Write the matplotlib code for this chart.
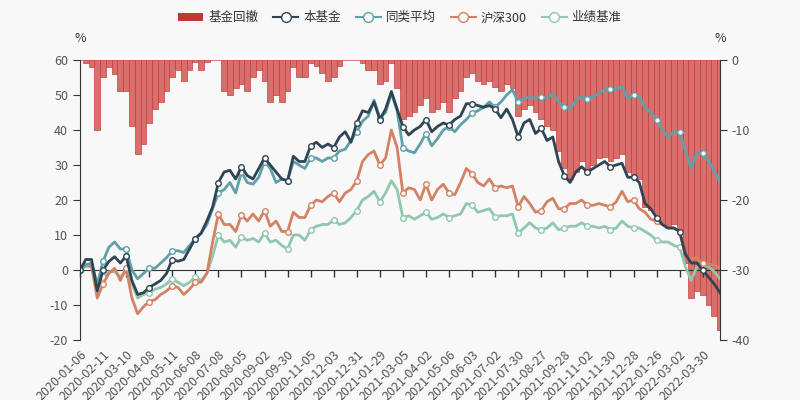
import numpy as np
import matplotlib
matplotlib.use("Agg")
import matplotlib.pyplot as plt
from matplotlib.lines import Line2D
from matplotlib.patches import Patch

plt.rcParams['font.family'] = ['Noto Sans CJK SC', 'DejaVu Sans']
plt.rcParams['axes.unicode_minus'] = False

# 周度取样（每5个交易日一个点）
date_labels = [
    "2020-01-06", "2020-02-11", "2020-03-10", "2020-04-08", "2020-05-11", "2020-06-08",
    "2020-07-08", "2020-08-05", "2020-09-02", "2020-09-30", "2020-11-05", "2020-12-03",
    "2020-12-31", "2021-01-29", "2021-03-05", "2021-04-02", "2021-05-06", "2021-06-03",
    "2021-07-02", "2021-07-30", "2021-08-27", "2021-09-28", "2021-11-02", "2021-11-30",
    "2021-12-28", "2022-01-26", "2022-03-02", "2022-03-30",
]

fund = [
    0, 3, 3, -6, 0, 2.4, 3.8, 2, 4, -3, -7, -6.5, -5, -4, -3, -1, 3, 2.5, 3, 6, 9, 10.5, 14, 18, 25,
    28, 28.5, 26, 29.5, 27, 26, 29, 32, 30, 28, 26, 25.5, 32.5, 31, 31, 35.5, 36.5, 35, 36, 35, 38, 39.5, 36.5, 42,
    45.5, 45, 48, 43, 46, 51, 46, 41,
    38.6, 40, 41, 43, 39.5, 41, 42, 41.4, 43, 44, 47.5, 47.5, 47, 46.5, 47, 46, 43.5, 46, 43, 38,
    42, 43, 39, 40.5, 37, 38, 31, 27, 25, 28,
    29.5, 28, 29, 30, 31, 29.5, 30, 30.5, 26.5, 26.5, 25, 19, 17.5, 15, 13, 12, 12, 11, 4.5, 2, 2, 0, -2, -4, -6.5,
]

peer = [
    0, 1.5, 2, -4, 2.5, 6.5, 8, 6, 6, 0, -2.5, -1, 0.5, 0.5, 2, 3.5, 5.5, 5.5, 5, 7, 9, 10.5, 13, 17.5, 22,
    23, 25, 22, 28, 25, 24.5, 26.5, 31, 29, 25, 26, 25.5, 31, 30, 29, 32, 32, 31, 32, 32, 34, 34.5, 37, 39.5,
    42.5, 44, 48.5, 43.5, 45, 50.5, 45.5, 35,
    34, 33.5, 36, 39, 35.5, 37.5, 40, 41, 39.5, 41.5, 43, 44.8, 45.5, 46.5, 48, 46.5, 48, 50, 51.5, 48,
    49, 49.5, 49, 49.5, 49, 50.5, 48, 46.5, 46, 48.5,
    49.5, 49, 49.5, 50.5, 51.5, 51.8, 51.5, 52.5, 49, 50, 49.5, 46.5, 45, 43, 40, 38, 39.5, 39.5, 34, 29, 33.5, 33.5, 31, 28.5, 25,
]

hs300 = [
    0, 1.5, 1, -8, -4, -1, 0.5, -3, 0.5, -8, -12.5, -10.5, -9, -8.5, -7, -6, -4.5, -5, -7, -5.5, -3.5, -3.5, -1, 8, 16,
    13, 13, 11, 15.7, 14, 16, 14, 17, 12.5, 14, 11, 11, 16.5, 15, 15, 18.5, 20, 19.5, 21, 22, 19.5, 22, 23, 25.5,
    31, 33, 34, 30, 32, 40, 35, 22,
    23.5, 23, 20, 24.5, 20, 23, 24.5, 22, 21.5, 25, 29, 27.5, 25, 24, 26, 23.5, 24, 23.5, 24, 18,
    21, 19, 16.5, 17, 19.5, 20.5, 17.5, 17.5, 19, 19,
    20, 18.5, 18.5, 19, 18.5, 18, 19.5, 22.5, 19.5, 20, 17.5, 16.5, 14.5, 14, 13, 12, 12, 11, 4, 3, 3.5, 2, 1.5, 1.5, 0.5,
]

bench = [
    0, 1, 1, -4, -2, -0.5, -0.5, -2, 0, -4, -8, -7, -6.5, -5.5, -5, -4, -2.5, -3.5, -4.5, -3.5, -2, -3, -1, 4, 10,
    8, 8.5, 6.5, 9.5, 8.5, 9, 8, 10.5, 8, 8.5, 7, 6, 10, 10, 8.5, 11.5, 12.5, 13, 13, 14.3, 13, 13.5, 15, 17,
    20, 21, 22.5, 19.5, 22, 25.5, 23, 15,
    15.5, 14.5, 15.5, 16.5, 14.5, 15, 16, 15, 15.5, 16, 19, 18.5, 16.5, 17, 17.5, 15.2, 15.5, 15.5, 16, 10.5,
    12, 13.5, 12, 11.5, 12, 13.5, 11.5, 12, 12.5, 12.5,
    13.5, 12.5, 12.5, 12, 12.5, 11.5, 12, 14, 12.5, 12, 12, 11, 10, 8.5, 8, 8, 7, 6.5, 1, -3, 1, 1.5, 1, -0.5, -2.5,
]

drawdown = [
    0, -0.5, -1, -10, -2.5, -1, -2, -4.5, -4.5, -9.5, -13.5, -12, -9, -7, -6, -4.5, -2.5, -1.5, -3, -1.5,
    -0.3, -1.5, -0.3, 0, 0, -4.5, -5, -4, -3.5,
    -4.5, -2.5, -1.5, -3, -6, -5, -6, -4.5, -1, -2.5, -2.5, -0.5, -0.8, -1.8, -3, -2.5, -0.8, 0, 0, 0,
    -0.5, -1.5, -1.5, -3.5, -3, -0.5, -4, -8.5,
    -8, -7.5, -6.5, -5.5, -7.5, -7, -6, -7.5, -5.5, -4.5, -2.5, -1.8, -3, -3.5, -3, -3.8, -4.5, -3.5, -4, -8,
    -7, -6.5, -7.5, -8.5, -9.5, -10, -13, -15.5, -17, -16,
    -14.5, -15.5, -15, -14, -13.8, -14.5, -14, -13.5, -16, -16.5, -17, -21, -21.5, -22, -23.5, -24, -23.5,
    -24.5, -29, -34, -33, -33.5, -35, -36.5, -38.5,
]

x = np.arange(len(fund))
label_step = 4

bg = "#f8f8f8"
fig = plt.figure(figsize=(8, 4), dpi=100, facecolor=bg)
ax = fig.add_axes([0.1, 0.15, 0.8, 0.7])
ax2 = ax.twinx()

# 回撤柱（右轴）
ax2.bar(x, drawdown, width=1.0, color="#d86f6c", edgecolor="#c23531", linewidth=0.45, zorder=1)
ax2.set_ylim(-40, 0)
ax2.set_yticks([0, -10, -20, -30, -40])
ax2.set_facecolor(bg)

# 折线（左轴），放在柱子上层
ax.set_zorder(ax2.get_zorder() + 1)
ax.patch.set_visible(False)

series = [
    (fund, "本基金", "#2f4554"),
    (peer, "同类平均", "#61a0a8"),
    (hs300, "沪深300", "#d48265"),
    (bench, "业绩基准", "#91c7ae"),
]
for vals, name, c in reversed(series):
    ax.plot(x, vals, color=c, linewidth=2, marker="o", markevery=label_step,
            markersize=4, markerfacecolor="white", markeredgecolor=c, markeredgewidth=1)

ax.set_xlim(0, len(fund) - 1)
ax.set_ylim(-20, 60)
ax.set_yticks(range(-20, 61, 10))

# 零轴和刻度
zero_ax = ax.secondary_xaxis(0.25)
zero_ax.set_xticks(x[::label_step])
zero_ax.set_xticklabels([])
zero_ax.tick_params(axis="x", direction="out", length=5, color="#333333", width=1)
zero_ax.spines["bottom"].set_color("#333333")

ax.set_xticks(x[::label_step])
ax.set_xticklabels(date_labels, rotation=45, ha="right", rotation_mode="anchor",
                   fontsize=9, color="#555555")
ax.tick_params(axis="x", length=0, pad=6)

for a in (ax, ax2):
    a.spines["top"].set_visible(False)
    a.spines["bottom"].set_visible(False)
    a.tick_params(axis="y", labelsize=9, colors="#555555", length=5, direction="out")
    a.spines["left"].set_color("#333333")
    a.spines["right"].set_color("#333333")
ax.spines["right"].set_visible(False)
ax2.spines["left"].set_visible(False)
ax.tick_params(axis="y", color="#333333")
ax2.tick_params(axis="y", color="#333333")

ax.text(0, 1.075, "%", transform=ax.transAxes, ha="center", va="center", fontsize=9, color="#333333")
ax.text(1, 1.075, "%", transform=ax.transAxes, ha="center", va="center", fontsize=9, color="#333333")

handles = [Patch(facecolor="#c23531", edgecolor="none", label="基金回撤")]
for vals, name, c in series:
    handles.append(Line2D([], [], color=c, linewidth=1.5, marker="o", markersize=7,
                          markerfacecolor="white", markeredgecolor=c, label=name))
fig.legend(handles=handles, loc="upper center", bbox_to_anchor=(0.5, 1.0), ncol=5,
           frameon=False, fontsize=9, handlelength=2.0, columnspacing=1.2, handletextpad=0.4,
           labelcolor="#333333")

fig.savefig("out.png", dpi=100, facecolor=bg)
